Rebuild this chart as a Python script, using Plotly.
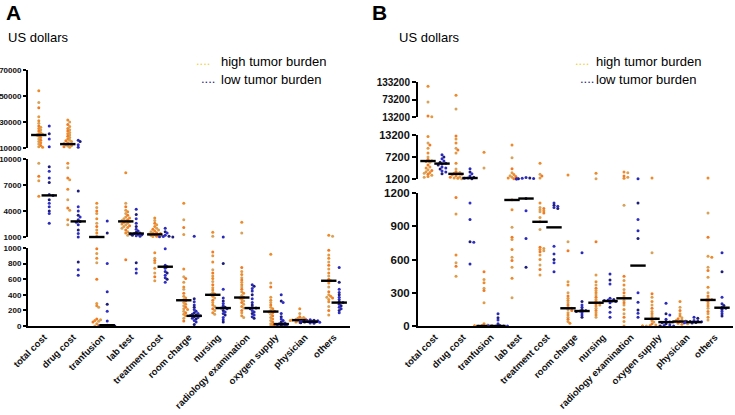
import plotly.graph_objects as go
import numpy as np

W, H = 735, 415

categories = ["total cost", "drug cost", "tranfusion", "lab test", "treatment cost",
              "room charge", "nursing", "radiology examination", "oxygen supply",
              "physician", "others"]

# ---------------- Panel A (US dollars) ----------------
A_high_total = [54000, 45000, 41000, 34000, 31000, 29000, 27000, 26000, 25000, 24000, 23000, 22000, 21000, 20500, 20000, 19000, 18000, 17000, 16000, 15000, 14000, 13000, 12000, 11000, 10500, 9500, 8000, 7500, 5700]
A_low_total = [27000, 21000, 17000, 11000, 9100, 8600, 7800, 7300, 5900, 5800, 5300, 4900, 4500, 4000, 3700, 2600]
A_high_drug = [31500, 30000, 28000, 26500, 25000, 24000, 23000, 22000, 21000, 20000, 19000, 18000, 17000, 16000, 15500, 15000, 14000, 13500, 13000, 12500, 12000, 11500, 11000, 10500, 9500, 9000, 7800, 7600, 6500, 5300, 4350, 4100, 3000, 2400]
A_low_drug = [16000, 15000, 12500, 10500, 6300, 4500, 4000, 3500, 3300, 3000, 2800, 2700, 2400, 1800, 1400, 1000, 820, 720, 650]
A_high_tranf = [4900, 4400, 4000, 3700, 3100, 2600, 2200, 1800, 1450, 1100, 990, 930, 870, 810, 600, 290, 260, 240, 90, 80, 70, 60, 50, 30, 10, 0, 0]
A_low_tranf = [2850, 1450, 800, 440, 280, 190, 65, 10, 5, 0, 0, 0]
A_high_lab = [8400, 4900, 4500, 4100, 3900, 3700, 3500, 3300, 3200, 3100, 3000, 2900, 2850, 2800, 2700, 2600, 2500, 2400, 2300, 2200, 2100, 2000, 1800, 1600, 1450, 1200, 850]
A_low_lab = [4200, 3600, 3100, 2600, 2200, 1900, 1700, 1550, 1450, 1400, 1350, 1300, 1250, 1200, 1150, 1100, 810, 730, 680]
A_high_treat = [3200, 2900, 2600, 2400, 2200, 2000, 1900, 1800, 1700, 1600, 1500, 1450, 1400, 1350, 1300, 1250, 1200, 1150, 1100, 1050, 940, 870, 840, 810, 740, 680, 630, 580]
A_low_treat = [2000, 1600, 1450, 1200, 1100, 1050, 1020, 1000, 990, 780, 760, 740, 700, 680, 650, 620, 600, 560]
A_high_room = [4900, 3000, 2100, 1300, 730, 630, 610, 560, 500, 470, 420, 380, 360, 340, 320, 300, 280, 260, 240, 220, 210, 190, 170, 150, 130, 100, 65]
A_low_room = [1100, 350, 310, 270, 240, 210, 190, 170, 160, 150, 140, 135, 130, 120, 110, 100, 90, 70, 50, 20]
A_high_nurs = [1550, 1100, 950, 900, 820, 720, 680, 640, 610, 570, 530, 490, 460, 430, 410, 400, 380, 360, 330, 300, 270, 250, 220, 200, 170, 150]
A_low_nurs = [1000, 800, 470, 360, 320, 290, 260, 240, 230, 220, 200, 180, 160, 140, 110, 80, 50]
A_high_radio = [2700, 1450, 750, 700, 660, 620, 590, 560, 530, 500, 470, 440, 420, 390, 370, 360, 340, 320, 300, 280, 250, 230, 200, 170, 130, 110]
A_low_radio = [530, 510, 480, 450, 400, 350, 300, 270, 240, 230, 220, 200, 180, 160, 140, 120, 100]
A_high_oxy = [920, 550, 500, 370, 330, 300, 270, 240, 220, 200, 190, 180, 170, 150, 130, 110, 90, 70, 50, 30, 15, 0, 0]
A_low_oxy = [400, 320, 300, 160, 120, 90, 70, 50, 40, 30, 25, 20, 15, 10, 5]
A_high_phys = [220, 160, 120, 110, 100, 95, 90, 85, 80, 78, 75, 72, 70, 65, 60, 55, 50, 45]
A_low_phys = [80, 75, 70, 68, 65, 62, 60, 58, 55, 53, 50, 48, 45, 42, 40, 35]
A_high_others = [1200, 1100, 970, 910, 870, 820, 780, 730, 680, 640, 600, 580, 550, 500, 440, 400, 380, 370, 360, 340, 310, 250, 200, 140]
A_low_others = [750, 560, 470, 430, 400, 370, 340, 310, 300, 280, 260, 240, 220, 200, 170]

A_high_median = [20000, 13000, 1000, 2800, 1300, 330, 400, 365, 185, 75, 580]
A_low_median = [5800, 2800, 10, 1400, 760, 130, 230, 230, 25, 55, 300]

A_ticks_top = [10000, 30000, 50000, 70000]
A_ticks_mid = [1000, 4000, 7000, 10000]
A_ticks_bot = [0, 200, 400, 600, 800, 1000]

# ---------------- Panel B (US dollars) ----------------
B_high_total = [119000, 65000, 17000, 14000, 12800, 11000, 10500, 9600, 8300, 7200, 6500, 6200, 6000, 5800, 5000, 4500, 4200, 3700, 3500, 3200, 3000, 2800, 2500, 2200, 1900, 1700]
B_low_total = [7800, 7200, 6700, 6100, 5800, 5500, 5300, 5000, 4500, 4200, 3900, 3400, 3100, 2600]
B_high_drug = [88000, 41000, 12900, 12100, 11000, 9600, 9100, 8300, 5500, 3900, 3200, 3000, 2800, 2600, 2500, 2300, 2000, 1800, 1700, 1500, 1400, 1300, 1160, 1010, 640, 570, 540, 450]
B_low_drug = [4000, 3100, 2600, 2000, 1700, 1500, 1400, 1300, 1110, 960, 760, 755, 560]
B_high_tranf = [8500, 4200, 490, 420, 390, 340, 320, 210, 20, 10, 5, 0, 0, 0, 0, 0, 0]
B_low_tranf = [110, 75, 55, 20, 5, 0, 0, 0, 0, 0]
B_high_lab = [10500, 7000, 4000, 2900, 2400, 2100, 1900, 1700, 1500, 1400, 1300, 1140, 1050, 890, 800, 780, 690, 620, 590, 530, 430, 255]
B_low_lab = [1600, 1500, 1400, 1350, 1300, 1250, 1220, 1150, 1040, 790, 530]
B_high_treat = [5500, 2500, 2000, 1500, 1110, 1070, 1060, 1050, 1040, 1030, 1020, 980, 940, 870, 710, 700, 690, 680, 670, 640, 600, 550, 510, 460]
B_low_treat = [1110, 1090, 1080, 1070, 1060, 720, 650, 600, 570, 490]
B_high_room = [2300, 760, 680, 400, 370, 300, 270, 250, 230, 210, 190, 170, 160, 150, 140, 120, 100, 80, 60, 40, 25]
B_low_room = [660, 220, 190, 170, 150, 140, 135, 130, 120, 100, 80]
B_high_nurs = [2800, 1300, 760, 460, 400, 370, 340, 320, 300, 280, 260, 240, 220, 210, 200, 190, 180, 160, 140, 120, 100, 80]
B_low_nurs = [470, 415, 380, 250, 240, 235, 230, 225, 220, 210, 170, 125, 80]
B_high_radio = [3100, 2900, 2000, 1700, 1400, 1090, 450, 410, 370, 330, 300, 270, 250, 230, 210, 190, 150, 110, 80, 40, 0]
B_low_radio = [1250, 1110, 960, 860, 790, 300, 215, 145, 115, 80]
B_high_oxy = [1450, 660, 290, 260, 220, 190, 160, 130, 110, 90, 70, 65, 50, 35, 20, 10, 5, 0, 0, 0, 0]
B_low_oxy = [205, 110, 100, 60, 40, 35, 30, 20, 10, 5, 0, 0]
B_high_phys = [220, 170, 140, 110, 90, 75, 65, 55, 50, 45, 40, 38, 35, 30, 25, 20, 15]
B_low_phys = [80, 70, 50, 45, 40, 38, 35, 32, 30, 28]
B_high_others = [1450, 1020, 800, 630, 620, 530, 500, 440, 350, 300, 270, 250, 240, 235, 220, 200, 180, 160, 130, 110, 80, 55]
B_low_others = [660, 490, 260, 200, 185, 170, 160, 150, 130, 110, 90]

B_high_median = [6100, 2600, 0, 1137, 940, 160, 210, 250, 65, 40, 235]
B_low_median = [5400, 1470, 0, 1150, 890, 135, 225, 545, 35, 35, 165]

B_ticks_top = [13200, 73200, 133200]
B_ticks_mid = [1200, 7200, 13200]
B_ticks_bot = [0, 300, 600, 900, 1200]

A_high = [A_high_total, A_high_drug, A_high_tranf, A_high_lab, A_high_treat, A_high_room,
          A_high_nurs, A_high_radio, A_high_oxy, A_high_phys, A_high_others]
A_low = [A_low_total, A_low_drug, A_low_tranf, A_low_lab, A_low_treat, A_low_room,
         A_low_nurs, A_low_radio, A_low_oxy, A_low_phys, A_low_others]
B_high = [B_high_total, B_high_drug, B_high_tranf, B_high_lab, B_high_treat, B_high_room,
          B_high_nurs, B_high_radio, B_high_oxy, B_high_phys, B_high_others]
B_low = [B_low_total, B_low_drug, B_low_tranf, B_low_lab, B_low_treat, B_low_room,
         B_low_nurs, B_low_radio, B_low_oxy, B_low_phys, B_low_others]

HIGH_COLORS = ["#EE8A2A", "#D6A25C", "#F27A22", "#E39A45"]
LOW_COLORS = ["#2A2AB8", "#1E1E78", "#3030C8"]
REG = "Liberation Sans, Arial, sans-serif"


def py2p(py):
    return 1 - py / H


panels = [
    dict(name="A", high=A_high, low=A_low, hmed=A_high_median, lmed=A_low_median,
         xpx=(28, 350), xr=(-0.552, 10.552), off=0.18,
         seg_px=[(248, 326), (159, 237), (70, 148)],
         seg_rng=[(0, 1000), (1000, 10000), (10000, 70000)],
         ticks=[A_ticks_bot, A_ticks_mid, A_ticks_top],
         tfs=[8, 8, 8], xfs=9.5, tl=3,
         axes=dict(x="x", xa="xaxis", y=["y3", "y2", "y"], ya=["yaxis3", "yaxis2", "yaxis"])),
    dict(name="B", high=B_high, low=B_low, hmed=B_high_median, lmed=B_low_median,
         xpx=(418, 733), xr=(-0.607, 10.643), off=0.25,
         seg_px=[(193, 326), (135, 179), (82, 117)],
         seg_rng=[(0, 1200), (1200, 13200), (13200, 133200)],
         ticks=[B_ticks_bot, B_ticks_mid, B_ticks_top],
         tfs=[11.5, 11, 10], xfs=9.5, tl=4,
         axes=dict(x="x2", xa="xaxis2", y=["y6", "y5", "y4"], ya=["yaxis6", "yaxis5", "yaxis4"])),
]


def seg_index(v, rng):
    if v < rng[1][0]:
        return 0
    if v <= rng[1][1]:
        return 1
    return 2


def val2px(v, s, p):
    pt, pb = p["seg_px"][s]
    r0, r1 = p["seg_rng"][s]
    return pb - (v - r0) / (r1 - r0) * (pb - pt)


def swarm(pys, step, mind=2.2):
    order = np.argsort(pys)
    placed = []
    slots = [0] * len(pys)
    cand = [0, 1, -1, 2, -2, 3, -3, 4, -4, 5, -5]
    for i in order:
        chosen = cand[-1]
        for s in cand:
            ok = True
            for (qy, qs) in placed:
                dx = (s - qs) * step
                dy = pys[i] - qy
                if dx * dx + dy * dy < mind * mind:
                    ok = False
                    break
            if ok:
                chosen = s
                break
        placed.append((pys[i], chosen))
        slots[i] = chosen
    return slots


fig = go.Figure()
layout = dict()

for p in panels:
    ax = p["axes"]
    ppu = (p["xpx"][1] - p["xpx"][0]) / (p["xr"][1] - p["xr"][0])
    step_px = 1.9
    for grp, sign, colors in [("high", -1, HIGH_COLORS), ("low", 1, LOW_COLORS)]:
        data = p[grp]
        xs = {0: [], 1: [], 2: []}
        ys = {0: [], 1: [], 2: []}
        cs = {0: [], 1: [], 2: []}
        for ci, vals in enumerate(data):
            segs = [seg_index(v, p["seg_rng"]) for v in vals]
            pys = [val2px(v, s, p) for v, s in zip(vals, segs)]
            slots = swarm(pys, step_px)
            for k, (v, s, sl) in enumerate(zip(vals, segs, slots)):
                xs[s].append(ci + sign * p["off"] + sl * step_px / ppu)
                ys[s].append(v)
                cs[s].append(colors[k % len(colors)])
        for s in range(3):
            fig.add_trace(go.Scatter(
                x=xs[s], y=ys[s], mode="markers", xaxis=ax["x"], yaxis=ax["y"][s],
                marker=dict(size=3.0, color=cs[s], line=dict(width=0)),
                cliponaxis=False, showlegend=False, hoverinfo="y"))
        meds = p["hmed"] if grp == "high" else p["lmed"]
        mx = {0: [], 1: [], 2: []}
        my = {0: [], 1: [], 2: []}
        for ci, m in enumerate(meds):
            s = seg_index(m, p["seg_rng"])
            mx[s].append(ci + sign * p["off"])
            my[s].append(m)
        for s in range(3):
            if mx[s]:
                fig.add_trace(go.Scatter(
                    x=mx[s], y=my[s], mode="markers", xaxis=ax["x"], yaxis=ax["y"][s],
                    marker=dict(symbol="line-ew", size=11, line=dict(width=2.4, color="black")),
                    cliponaxis=False, showlegend=False, hoverinfo="y"))

    layout[ax["xa"]] = dict(
        domain=[p["xpx"][0] / W, p["xpx"][1] / W], range=list(p["xr"]),
        anchor=ax["y"][0], tickmode="array", tickvals=list(range(len(categories))),
        ticktext=categories, tickangle=-45, ticks="", showline=True, linewidth=2.2,
        linecolor="black", showgrid=False, zeroline=False, automargin=False,
        tickfont=dict(family=REG, size=p["xfs"], color="#111", weight="bold"))
    for s in range(3):
        top_px, bot_px = p["seg_px"][s]
        layout[ax["ya"][s]] = dict(
            domain=[py2p(bot_px), py2p(top_px)], range=list(p["seg_rng"][s]),
            anchor=ax["x"], tickmode="array", tickvals=p["ticks"][s],
            ticktext=[str(t) for t in p["ticks"][s]], automargin=False,
            ticks="outside", ticklen=p["tl"], tickwidth=1.8, tickcolor="black",
            showline=True, linewidth=2, linecolor="black", showgrid=False, zeroline=False,
            tickfont=dict(family=REG, size=p["tfs"][s], color="#111", weight="bold"))

annotations = []
for lab, x in [("A", 4), ("B", 370)]:
    annotations.append(dict(text=lab, x=x / W, y=py2p(13), xref="paper", yref="paper",
                            xanchor="left", yanchor="middle", showarrow=False,
                            font=dict(family=REG, size=21, color="black", weight="bold")))
for x in [6, 397]:
    annotations.append(dict(text="US dollars", x=x / W, y=py2p(38), xref="paper", yref="paper",
                            xanchor="left", yanchor="middle", showarrow=False,
                            font=dict(family=REG, size=13, color="black")))
for dx, tx in [(194, 219), (573, 594)]:
    annotations.append(dict(text="....", x=dx / W, y=py2p(60), xref="paper", yref="paper",
                            xanchor="left", yanchor="middle", showarrow=False,
                            font=dict(family=REG, size=13, color="#F0D040")))
    annotations.append(dict(text="high tumor burden", x=tx / W, y=py2p(62), xref="paper", yref="paper",
                            xanchor="left", yanchor="middle", showarrow=False,
                            font=dict(family=REG, size=13, color="black")))
    annotations.append(dict(text="....", x=(dx + 5) / W, y=py2p(78), xref="paper", yref="paper",
                            xanchor="left", yanchor="middle", showarrow=False,
                            font=dict(family=REG, size=13, color="#1E1E78")))
    annotations.append(dict(text="low tumor burden", x=tx / W, y=py2p(80), xref="paper", yref="paper",
                            xanchor="left", yanchor="middle", showarrow=False,
                            font=dict(family=REG, size=13, color="black")))

fig.update_layout(width=W, height=H, margin=dict(l=0, r=0, t=0, b=0, autoexpand=False),
                  paper_bgcolor="white", plot_bgcolor="white", showlegend=False,
                  annotations=annotations, **layout)

fig.write_html("out.html", config={"displayModeBar": False},
               post_script="document.body.style.margin='0';document.body.style.padding='0';"
                           "document.body.style.overflow='hidden';")
